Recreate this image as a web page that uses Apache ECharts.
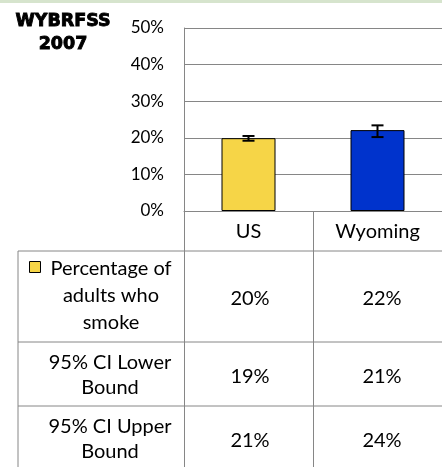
<!DOCTYPE html>
<html>
<head>
<meta charset="utf-8">
<script src="https://cdn.jsdelivr.net/npm/echarts@6/dist/echarts.min.js"></script>
<style>
  html, body { margin: 0; padding: 0; background: #fff; }
  #chart { width: 442px; height: 467px; }
</style>
</head>
<body>
<div id="chart"></div>
<script>
// data
var categories = ['US', 'Wyoming'];
var smokePct = [19.9, 22.1];
var errLow = [19.2, 20.2];
var errHigh = [20.5, 23.4];
var yTicks = [0, 10, 20, 30, 40, 50];
var rowLabels = [['Percentage of', 'adults who', 'smoke'], ['95% CI Lower', 'Bound'], ['95% CI Upper', 'Bound']];
var rowValues = [['20%', '22%'], ['19%', '21%'], ['21%', '24%']];

// layout
var gridLeft = 184, gridTop = 28, gridHeight = 183, catWidth = 132;
var tableLeft = 18;
var rowLines = [251, 342, 406, 467];
var labelCenters = [296, 375, 439];
var valueCenters = [299, 377, 441];
var lineHeights = [27, 25, 25];
var font = 'Lato';

var chart = echarts.init(document.getElementById('chart'));

var graphics = [
    { type: 'rect', shape: { x: 0, y: 0, width: 442, height: 3 }, style: { fill: '#d6e4cd' } },
    { type: 'text', x: 63, y: 32.5, style: { text: 'WYBRFSS\n2007', fontFamily: 'DejaVu Sans', fontWeight: 900, fontSize: 17.5, lineHeight: 23,
        fill: '#000', stroke: '#000', lineWidth: 0.9, align: 'center', verticalAlign: 'middle' } },
    // left border of table
    { type: 'line', shape: { x1: tableLeft, y1: rowLines[0], x2: tableLeft, y2: 467 }, style: { stroke: '#868686', lineWidth: 1 } }
];
for (var r = 0; r < 3; r++) {
    graphics.push({ type: 'line', shape: { x1: tableLeft, y1: rowLines[r], x2: 442, y2: rowLines[r] }, style: { stroke: '#868686', lineWidth: 1 } });
    graphics.push({ type: 'text', x: r === 0 ? 111 : 110, y: labelCenters[r], style: {
        text: rowLabels[r].join('\n'), fontFamily: font, fontSize: 20, lineHeight: lineHeights[r], fill: '#000', align: 'center', verticalAlign: 'middle' } });
    for (var c = 0; c < categories.length; c++) {
        graphics.push({ type: 'text', x: gridLeft + catWidth * (c + 0.5), y: valueCenters[r], style: {
            text: rowValues[r][c], fontFamily: font, fontSize: 20, fill: '#000', align: 'center', verticalAlign: 'middle' } });
    }
}
// legend key
graphics.push({ type: 'rect', shape: { x: 29.5, y: 261.5, width: 11, height: 11 }, style: { fill: '#f6d547', stroke: '#000', lineWidth: 1 } });

var option = {
    animation: false,
    grid: { left: gridLeft, top: gridTop, width: catWidth * categories.length, height: gridHeight },
    xAxis: {
        type: 'category',
        data: categories,
        axisLine: { show: true, lineStyle: { color: '#868686', width: 1 } },
        axisTick: { show: true, length: 260, lineStyle: { color: '#868686', width: 1 } },
        axisLabel: { color: '#000', fontFamily: font, fontSize: 20, margin: 11 }
    },
    yAxis: {
        type: 'value',
        min: yTicks[0],
        max: yTicks[yTicks.length - 1],
        interval: 10,
        axisLine: { show: true, lineStyle: { color: '#868686', width: 1 } },
        axisTick: { show: false },
        splitLine: { lineStyle: { color: '#868686', width: 1 } },
        axisLabel: { color: '#000', fontFamily: font, fontSize: 17, margin: 20, formatter: '{value}%' }
    },
    series: [
        {
            type: 'bar',
            barWidth: 54,
            data: [
                { value: smokePct[0], itemStyle: { color: '#f6d547' } },
                { value: smokePct[1], itemStyle: { color: '#0033cc' } }
            ],
            itemStyle: { borderColor: '#000', borderWidth: 1 }
        },
        {
            type: 'custom',
            data: categories.map(function (c, i) { return [i, errLow[i], errHigh[i]]; }),
            renderItem: function (params, api) {
                var lo = api.coord([api.value(0), api.value(1)]);
                var hi = api.coord([api.value(0), api.value(2)]);
                var w = 6;
                var st = { stroke: '#000', lineWidth: 2 };
                return {
                    type: 'group',
                    children: [
                        { type: 'line', shape: { x1: lo[0], y1: lo[1], x2: hi[0], y2: hi[1] }, style: st },
                        { type: 'line', shape: { x1: lo[0] - w, y1: lo[1], x2: lo[0] + w, y2: lo[1] }, style: st },
                        { type: 'line', shape: { x1: hi[0] - w, y1: hi[1], x2: hi[0] + w, y2: hi[1] }, style: st }
                    ]
                };
            },
            z: 5
        }
    ],
    graphic: graphics
};

chart.setOption(option);
</script>
</body>
</html>
